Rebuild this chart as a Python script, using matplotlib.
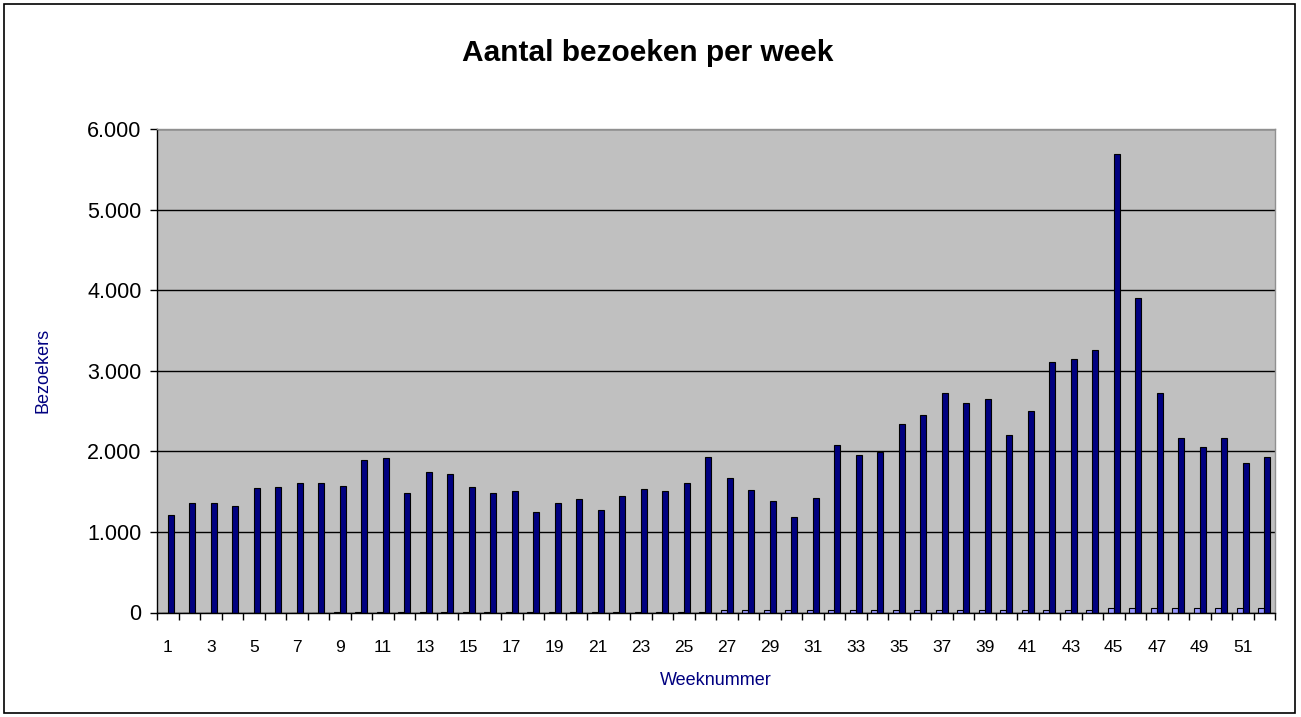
import numpy as np
import matplotlib
matplotlib.use("Agg")
import matplotlib.pyplot as plt
from matplotlib.ticker import FuncFormatter, FixedLocator
from matplotlib.patches import Rectangle

plt.rcParams['font.family'] = ['Liberation Sans', 'DejaVu Sans']

# weekly visits (main series)
weeks = np.arange(1, 53)
visitors = [1216, 1359, 1359, 1322, 1541, 1558, 1612, 1612, 1575, 1897,
            1917, 1483, 1740, 1719, 1558, 1483, 1508, 1253, 1359, 1414,
            1273, 1451, 1537, 1508, 1612, 1929, 1665, 1521, 1380, 1180,
            1417, 2075, 1950, 1992, 2341, 2450, 2729, 2600, 2650, 2203,
            2502, 3108, 3141, 3253, 5689, 3897, 2722, 2162, 2054, 2162,
            1859, 1929]
# small second series (barely visible at the bottom)
second = [0, 0, 0, 0, 0, 0, 0, 0, 6, 7,
          7, 7, 8, 8, 8, 8, 8, 9, 9, 9,
          10, 10, 10, 11, 11, 12, 28, 29, 30, 30,
          31, 31, 32, 32, 32, 33, 33, 33, 34, 34,
          34, 35, 35, 35, 52, 52, 53, 53, 54, 54,
          55, 55]
yticks = [0, 1000, 2000, 3000, 4000, 5000, 6000]
xlabels = [str(w) for w in weeks[::2]]

W, H = 1301, 717
fig = plt.figure(figsize=(W / 100, H / 100), dpi=100)
ax = fig.add_axes([157 / W, 1 - 612.5 / H, (1275 - 157) / W, (612.5 - 129) / H])
ax.set_facecolor('#C0C0C0')
ax.set_axisbelow(True)

bw = 0.27
ax.bar(weeks - bw / 2, second, width=bw, color='#9999FF', edgecolor='black', linewidth=0.8)
ax.bar(weeks + bw / 2, visitors, width=bw, color='#000080', edgecolor='black', linewidth=0.8)

ax.set_xlim(0.5, 52.5)
ax.set_ylim(0, 6000)
ax.set_yticks(yticks)
ax.yaxis.set_major_formatter(FuncFormatter(lambda v, p: f"{int(v):,}".replace(',', '.')))
ax.grid(axis='y', color='black', linewidth=1.0)

ax.xaxis.set_major_locator(FixedLocator(weeks[::2]))
ax.set_xticklabels(xlabels)
ax.xaxis.set_minor_locator(FixedLocator(np.arange(0.5, 53, 1)))
ax.tick_params(axis='x', which='major', length=0, pad=20, labelsize=12.5)
ax.tick_params(axis='x', which='minor', length=5, width=1, direction='out')
ax.tick_params(axis='y', length=5, width=1, pad=6, labelsize=15.5)

for s in ['left', 'bottom']:
    ax.spines[s].set_color('black')
    ax.spines[s].set_linewidth(1)
for s in ['top', 'right']:
    ax.spines[s].set_color('#909090')
    ax.spines[s].set_linewidth(1)

ax.set_xlabel('Weeknummer', color='#000080', fontsize=13, labelpad=12)
ax.set_ylabel('Bezoekers', color='#000080', fontsize=13, labelpad=26)

fig.text(0.498, 1 - 53 / H, 'Aantal bezoeken per week', ha='center', va='center',
         fontsize=21.5, fontweight='bold')

fig.patches.append(Rectangle((4 / W, 4 / H), 1291 / W, 709 / H, transform=fig.transFigure,
                             fill=False, edgecolor='black', linewidth=1.2))

fig.savefig('out.png', dpi=100)
